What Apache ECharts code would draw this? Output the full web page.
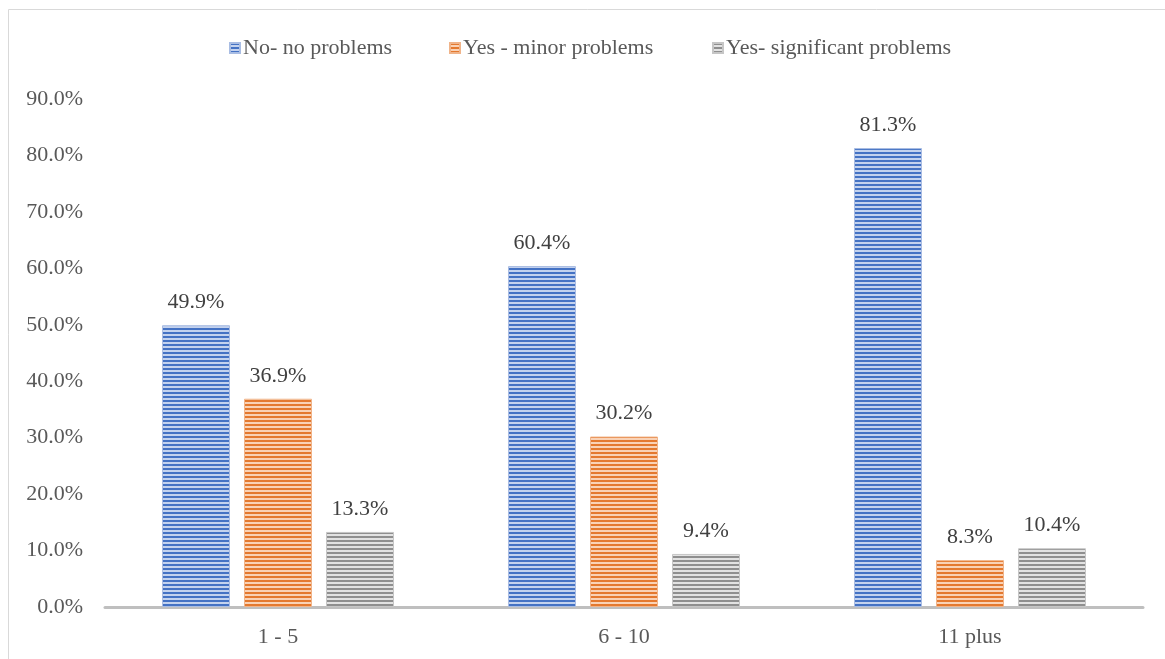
<!DOCTYPE html>
<html><head><meta charset="utf-8">
<script src="https://cdn.jsdelivr.net/npm/echarts@6/dist/echarts.min.js"></script>
<style>html,body{margin:0;padding:0;background:#fff}#c{width:1165px;height:659px}</style>
</head><body><div id="c"></div>
<script>
const categories = ['1 - 5', '6 - 10', '11 plus'];
const seriesNames = ['No- no problems', 'Yes - minor problems', 'Yes- significant problems'];
const noProblems = [49.9, 60.4, 81.3];
const minorProblems = [36.9, 30.2, 8.3];
const significantProblems = [13.3, 9.4, 10.4];
const yTicks = [0, 10, 20, 30, 40, 50, 60, 70, 80, 90];

function stripe(dark, light) {
  const c = document.createElement('canvas');
  c.width = 4; c.height = 4;
  const g = c.getContext('2d');
  g.fillStyle = light; g.fillRect(0, 0, 4, 4);
  g.fillStyle = dark; g.fillRect(0, 0, 4, 2);
  return {image: c, repeat: 'repeat'};
}
const styles = [
  {dark: '#4472C4', light: '#c3d2ee', border: '#a9bde3'},
  {dark: '#E4792F', light: '#f9d2b6', border: '#f0b48a'},
  {dark: '#8f8f8f', light: '#e2e2e2', border: '#c6c6c6'}
];
const values = [noProblems, minorProblems, significantProblems];
const font = '"Liberation Serif", "DejaVu Serif", serif';
const legendLefts = [224, 444, 707];

const chart = echarts.init(document.getElementById('c'));
chart.setOption({
  animation: false,
  textStyle: {fontFamily: font},
  graphic: [{type: 'rect', shape: {x: 8.5, y: 9.5, width: 1300, height: 800},
    style: {fill: 'none', stroke: '#d9d9d9', lineWidth: 1}, silent: true}],
  legend: seriesNames.map((n, i) => ({
    top: 32, left: legendLefts[i], itemWidth: 10, itemHeight: 10,
    icon: 'rect',
    textStyle: {fontFamily: font, fontSize: 22, color: '#595959', padding: [0, 0, 0, -2]},
    data: [n]
  })),
  grid: {left: 105, right: 22, top: 99, bottom: 52},
  xAxis: {
    type: 'category', data: categories,
    axisLine: {lineStyle: {color: '#bfbfbf', width: 3}},
    axisTick: {show: false},
    axisLabel: {fontFamily: font, fontSize: 22, color: '#595959', margin: 19}
  },
  yAxis: {
    type: 'value', min: yTicks[0], max: yTicks[yTicks.length - 1], interval: 10,
    axisLine: {show: false}, axisTick: {show: false}, splitLine: {show: false},
    axisLabel: {fontFamily: font, fontSize: 22, color: '#595959', margin: 22,
      formatter: v => v.toFixed(1) + '%'}
  },
  series: seriesNames.map((n, i) => ({
    name: n, type: 'bar', data: values[i], barWidth: 68, barGap: '20.6%',
    itemStyle: {color: stripe(styles[i].dark, styles[i].light), borderColor: styles[i].border, borderWidth: 1},
    label: {show: true, position: 'top', distance: 12, fontFamily: font, fontSize: 22, color: '#404040',
      formatter: p => p.value.toFixed(1) + '%'}
  }))
});
</script></body></html>
